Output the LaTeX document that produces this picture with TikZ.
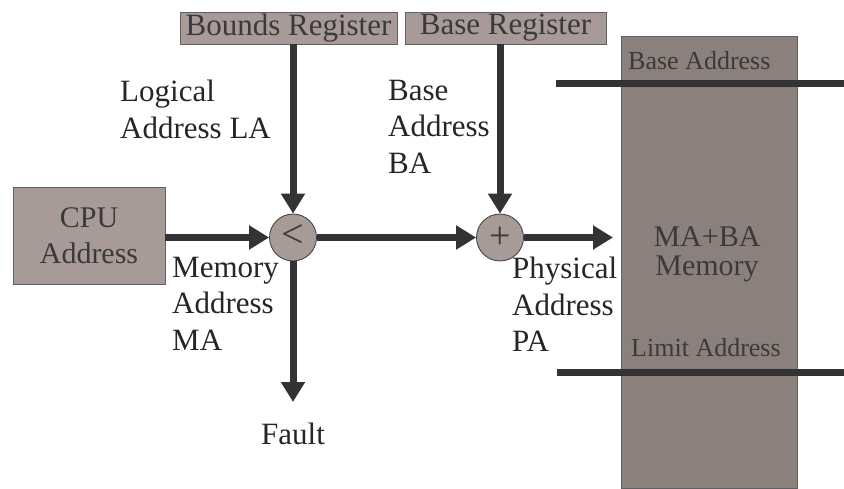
\documentclass[tikz,border=0pt]{standalone}
\usepackage{fontspec}
\setmainfont{Liberation Serif}
\usetikzlibrary{arrows.meta}
\definecolor{boxfill}{HTML}{A89A96}
\definecolor{memfill}{HTML}{8C807C}
\definecolor{arrowc}{HTML}{333336}
\definecolor{txtc}{HTML}{3A3A3C}
\begin{document}
\begin{tikzpicture}[x=1pt,y=-1pt,
  regbox/.style={draw=txtc!80,fill=boxfill,line width=0.8pt,inner sep=0pt,text=txtc,font=\fontsize{31}{36}\selectfont},
  opcirc/.style={circle,draw=txtc,fill=boxfill,line width=0.8pt,minimum size=47pt,inner sep=0pt,text=txtc},
  flow/.style={line width=7pt,draw=arrowc,-{Triangle[length=20pt,width=23pt]}},
  bar/.style={line width=7pt,draw=arrowc},
  lbl/.style={anchor=north west,align=left,inner sep=0pt,font=\fontsize{31}{36.5}\selectfont,text=black!85},
  memtxt/.style={inner sep=0pt,text=txtc,font=\fontsize{26}{30}\selectfont}
]
\useasboundingbox (0,0) rectangle (844,489);
% register boxes
\node[regbox,minimum width=217pt,minimum height=32pt] (bounds) at (288.5,28) {Bounds Register};
\node[regbox,minimum width=201pt,minimum height=32pt] (basereg) at (505.5,28) {Base Register};
% CPU box
\node[regbox,minimum width=152pt,minimum height=97pt,align=center,font=\fontsize{30}{36}\selectfont] (cpu) at (89,235.5) {CPU\\Address};
% operators
\node[opcirc] (lt) at (293,237.5) {};
\node[opcirc] (plus) at (500,237.5) {};
\node[inner sep=0pt,text=txtc,font=\fontsize{40}{40}\selectfont] (ltsym) at (293,236) {<};
\node[inner sep=0pt,text=txtc,font=\fontsize{38}{40}\selectfont] (plussym) at (500,238) {+};
% memory
\draw[draw=txtc!80,fill=memfill,line width=0.8pt] (621,36) rectangle (797,488);
\node[memtxt,anchor=west] (baseaddr) at (628,61) {Base Address};
\node[memtxt,anchor=west] (limaddr) at (631,348) {Limit Address};
\node[memtxt,align=center,font=\fontsize{30}{29}\selectfont,text=txtc] (mab) at (707,254) {MA+BA\\Memory};
\coordinate (bl1) at (556,84);
\coordinate (bl2) at (844,84);
\coordinate (ll1) at (557,372);
\coordinate (ll2) at (844,372);
\draw[bar] (bl1) -- (bl2);
\draw[bar] (ll1) -- (ll2);
% connectors
\coordinate (memin) at (613,237.5);
\coordinate (faultend) at (293,402);
\draw[flow] (cpu.east |- lt.west) -- (lt.west);
\draw[flow] (lt.east) -- (plus.west);
\draw[flow] (plus.east) -- (memin);
\draw[flow] (bounds.south -| lt.north) -- (lt.north);
\draw[flow] (basereg.south -| plus.north) -- (plus.north);
\draw[flow] (lt.south) -- (faultend);
% labels
\node[lbl] (la) at (120,80) {Logical\\Address LA};
\node[lbl] (ba) at (388,80) {Base\\Address\\BA};
\node[lbl] (ma) at (172,257) {Memory\\Address\\MA};
\node[lbl] (pa) at (512,257) {Physical\\Address\\PA};
\node[inner sep=0pt,font=\fontsize{31}{36}\selectfont,text=black!85] (fault) at (293,434) {Fault};
\end{tikzpicture}
\end{document}
